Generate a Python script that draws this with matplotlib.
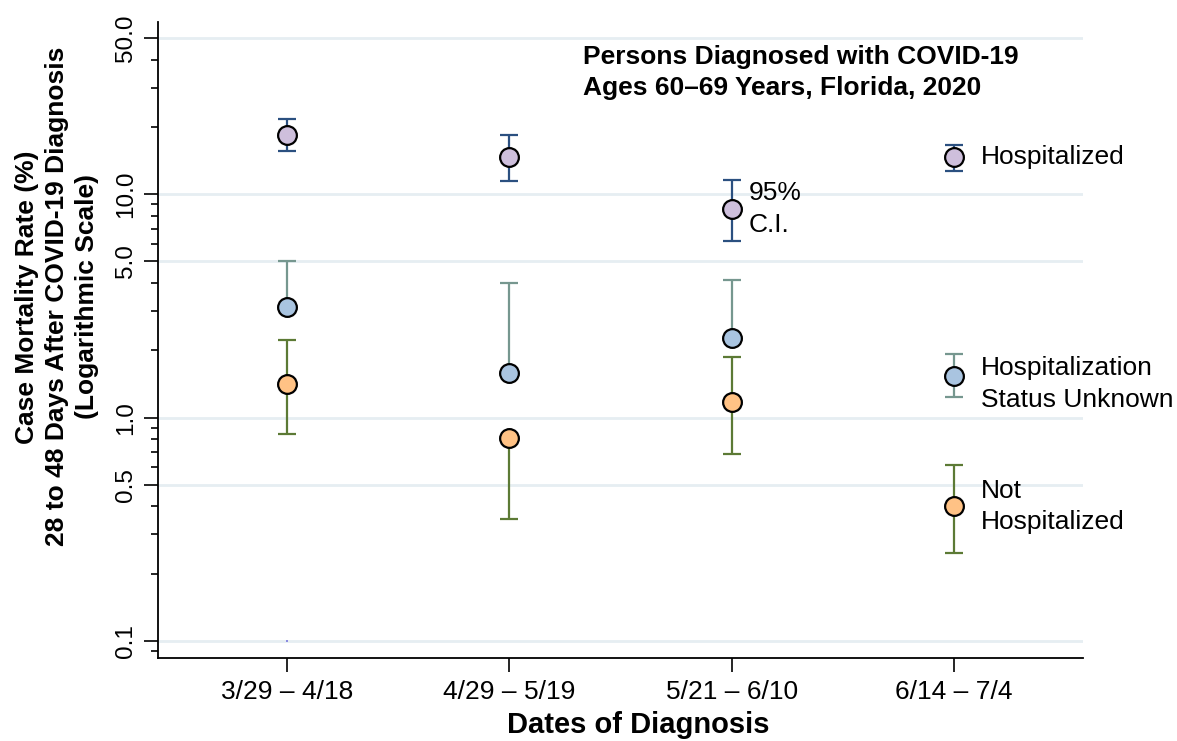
import numpy as np
import matplotlib
matplotlib.use("Agg")
import matplotlib.pyplot as plt
from matplotlib.ticker import LogLocator, NullFormatter

plt.rcParams["font.family"] = ["Liberation Sans", "DejaVu Sans"]

periods = ["3/29 \u2013 4/18", "4/29 \u2013 5/19", "5/21 \u2013 6/10", "6/14 \u2013 7/4"]
xpos = [1, 2, 3, 4]

# estimates; nan = whisker not drawn in the source
hosp_rate = [18.5, 14.7, 8.6, 14.7]
hosp_lo = [15.6, 11.5, 6.2, 12.7]
hosp_hi = [21.7, 18.4, 11.6, 16.6]

unk_rate = [3.13, 1.59, 2.28, 1.54]
unk_lo = [np.nan, np.nan, np.nan, 1.24]
unk_hi = [5.03, 4.02, 4.13, 1.92]

not_rate = [1.41, 0.81, 1.18, 0.40]
not_lo = [0.84, 0.35, 0.69, 0.248]
not_hi = [2.22, np.nan, 1.87, 0.614]

series = [
    ("hosp", hosp_rate, hosp_lo, hosp_hi, "#cebfdc", "#2b5080"),
    ("unk", unk_rate, unk_lo, unk_hi, "#a9c4e0", "#76978f"),
    ("not", not_rate, not_lo, not_hi, "#ffc285", "#5c7a35"),
]

fig = plt.figure(figsize=(11.77, 7.41), dpi=100)
ax = fig.add_axes([158 / 1177, 1 - 658 / 741, 925 / 1177, 636 / 741])
ax.set_yscale("log")
ax.set_ylim(0.0839, 59.0)
ax.set_xlim(0.42, 4.58)

for name, rate, lo, hi, fill, bar in series:
    for x, r, l, h in zip(xpos, rate, lo, hi):
        for end in (l, h):
            if np.isnan(end):
                continue
            ax.plot([x, x], [r, end], color=bar, lw=1.6, zorder=2, solid_capstyle="butt")
            ax.plot([x], [end], marker="_", ms=13.5, mew=1.6, color=bar, zorder=2)
    ax.plot(xpos, rate, ls="none", marker="o", ms=13.5, mfc=fill, mec="black", mew=1.6, zorder=3)

# stray speck at 0.1 in the source
ax.plot([1], [0.1], ls="none", marker="s", ms=1.5, color="#8a8ae0", mew=0, zorder=3)

ax.set_yticks([0.1, 0.5, 1, 5, 10, 50])
ax.set_yticklabels(["0.1", "0.5", "1.0", "5.0", "10.0", "50.0"])
ax.yaxis.set_minor_locator(LogLocator(base=10, subs=np.arange(2, 10)))
ax.yaxis.set_minor_formatter(NullFormatter())
ax.grid(axis="y", which="major", color="#e6eef2", lw=2)
ax.set_axisbelow(True)

ax.set_xticks(xpos)
ax.set_xticklabels(periods)
ax.tick_params(axis="both", which="major", length=10, width=1.2, direction="out")
ax.tick_params(axis="y", which="minor", length=5, width=1.2, direction="out")
ax.tick_params(axis="x", pad=6, labelsize=19)
ax.tick_params(axis="y", labelsize=17.5, labelrotation=90, pad=5)
for lab in ax.get_yticklabels():
    lab.set_va("center")

for s in ["top", "right"]:
    ax.spines[s].set_visible(False)
for s in ["left", "bottom"]:
    ax.spines[s].set_linewidth(1.3)

ax.set_xlabel("Dates of Diagnosis", fontsize=21, fontweight="bold")
ax.xaxis.set_label_coords(0.519, -0.106)
ax.xaxis.label.set_va("center")
ax.set_ylabel("Case Mortality Rate (%)\n28 to 48 Days After COVID-19 Diagnosis\n(Logarithmic Scale)",
              fontsize=19, fontweight="bold", linespacing=1.3)
ax.yaxis.set_label_coords(-0.109, 0.568)
ax.yaxis.label.set_va("center")

fig.text(583 / 1177, 1 - 72.5 / 741, "Persons Diagnosed with COVID-19\nAges 60\u201369 Years, Florida, 2020",
         fontsize=19, fontweight="bold", ha="left", va="center", linespacing=1.38)

ax.text(4.121, hosp_rate[3], "Hospitalized", fontsize=19, ha="left", va="center")
ax.text(4.121, 1.41, "Hospitalization\nStatus Unknown", fontsize=19, ha="left", va="center", linespacing=1.4)
ax.text(4.121, not_rate[3], "Not\nHospitalized", fontsize=19, ha="left", va="center", linespacing=1.4)
ax.text(3.076, hosp_rate[2], "95%\nC.I.", fontsize=19, ha="left", va="center", linespacing=1.4)

fig.savefig("out.png", dpi=100)
